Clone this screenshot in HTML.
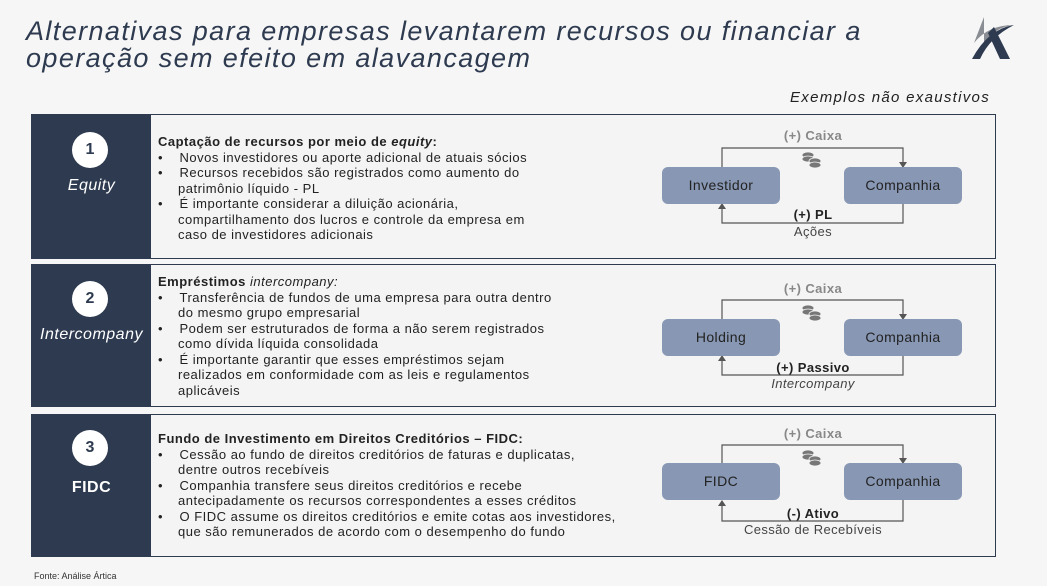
<!DOCTYPE html>
<html><head><meta charset="utf-8"><style>
body{margin:0;width:1047px;height:586px;background:#f6f6f6;position:relative;overflow:hidden;font-family:"Liberation Sans",sans-serif;color:#222}
.a{position:absolute}
.title{left:26px;top:18px;font-size:27px;font-style:italic;color:#2d3a4f;line-height:27px;letter-spacing:1.4px;white-space:nowrap}
.panel{position:absolute;left:31px;width:965px;border:1px solid #2d3a4f;background:#f4f4f5;box-sizing:border-box}
.dark{position:absolute;left:0;top:0;bottom:0;width:119px;background:#2d3a4f;color:#fff;text-align:center}
.circ{position:absolute;left:40px;width:36px;height:36px;border-radius:50%;background:#fff;color:#2d3a4f;font-weight:bold;font-size:16px;line-height:36px;text-align:center}
.lbl{position:absolute;left:0;width:119px;font-size:16px;letter-spacing:0.5px}
.txt{position:absolute;left:126px;font-size:13px;line-height:15.5px;color:#222;white-space:nowrap;letter-spacing:0.5px}
.txt div{padding-left:20px;text-indent:-20px}
.node{position:absolute;width:118px;height:37px;background:#8898b4;border-radius:6px;text-align:center;line-height:37px;font-size:14px;color:#222;letter-spacing:0.4px}
.cl{position:absolute;font-size:13px;text-align:center;width:200px;letter-spacing:0.4px}
</style></head><body>
<div class="a title">Alternativas para empresas levantarem recursos ou financiar a<br>operação sem efeito em alavancagem</div>
<svg class="a" style="left:970px;top:15px" width="50" height="46" viewBox="0 0 50 46"><path d="M14 2 L4 28 Q18 10 44 10 Q24 12 14 30 Z" fill="#8a8d93"/><path d="M2 44 L10 44 Q20 22 44 10 Q18 14 2 44Z" fill="#2d3a4f"/><path d="M18 18 L30 44 L40 44 L24 12Z" fill="#2d3a4f"/></svg>
<div class="a" style="right:57px;top:89px;font-size:15px;font-style:italic;color:#222;letter-spacing:1.3px">Exemplos não exaustivos</div>

<div class="panel" style="top:114px;height:145px">
 <div class="dark"><div class="circ" style="top:17px">1</div><div class="lbl" style="top:62px;font-style:italic">Equity</div></div>
 <div class="txt" style="top:19px"><b>Captação de recursos por meio de <i>equity</i>:</b>
 <div>•&nbsp;&nbsp;&nbsp;&nbsp;Novos investidores ou aporte adicional de atuais sócios</div>
 <div>•&nbsp;&nbsp;&nbsp;&nbsp;Recursos recebidos são registrados como aumento do<br>patrimônio líquido - PL</div>
 <div>•&nbsp;&nbsp;&nbsp;&nbsp;É importante considerar a diluição acionária,<br>compartilhamento dos lucros e controle da empresa em<br>caso de investidores adicionais</div></div>
</div>
<div class="panel" style="top:264px;height:143px">
 <div class="dark"><div class="circ" style="top:16px">2</div><div class="lbl" style="top:61px;font-style:italic">Intercompany</div></div>
 <div class="txt" style="top:9px"><b>Empréstimos <i style="font-weight:normal">intercompany:</i></b>
 <div>•&nbsp;&nbsp;&nbsp;&nbsp;Transferência de fundos de uma empresa para outra dentro<br>do mesmo grupo empresarial</div>
 <div>•&nbsp;&nbsp;&nbsp;&nbsp;Podem ser estruturados de forma a não serem registrados<br>como dívida líquida consolidada</div>
 <div>•&nbsp;&nbsp;&nbsp;&nbsp;É importante garantir que esses empréstimos sejam<br>realizados em conformidade com as leis e regulamentos<br>aplicáveis</div></div>
</div>
<div class="panel" style="top:414px;height:143px">
 <div class="dark"><div class="circ" style="top:15px">3</div><div class="lbl" style="top:64px;font-weight:bold">FIDC</div></div>
 <div class="txt" style="top:16px"><b>Fundo de Investimento em Direitos Creditórios – FIDC:</b>
 <div>•&nbsp;&nbsp;&nbsp;&nbsp;Cessão ao fundo de direitos creditórios de faturas e duplicatas,<br>dentre outros recebíveis</div>
 <div>•&nbsp;&nbsp;&nbsp;&nbsp;Companhia transfere seus direitos creditórios e recebe<br>antecipadamente os recursos correspondentes a esses créditos</div>
 <div>•&nbsp;&nbsp;&nbsp;&nbsp;O FIDC assume os direitos creditórios e emite cotas aos investidores,<br>que são remunerados de acordo com o desempenho do fundo</div></div>
</div>

<svg class="a" style="left:0;top:0" width="1047" height="586">
<g fill="none" stroke="#555" stroke-width="1.2">
<path d="M722 167 V148 H903 V163"/><path d="M903 204 V223 H722 V208"/>
<path d="M722 319 V300 H903 V315"/><path d="M903 356 V375 H722 V360"/>
<path d="M722 463 V445 H903 V459"/><path d="M903 500 V521 H722 V505"/>
</g>
<g fill="#555">
<path d="M899 162 L907 162 L903 168Z"/><path d="M718 209 L726 209 L722 203Z"/>
<path d="M899 314 L907 314 L903 320Z"/><path d="M718 361 L726 361 L722 355Z"/>
<path d="M899 458 L907 458 L903 464Z"/><path d="M718 506 L726 506 L722 500Z"/>
</g>
<g fill="#777" stroke="#f4f4f5" stroke-width="0.8">
<ellipse cx="808" cy="155" rx="6" ry="3"/><ellipse cx="808" cy="159" rx="6" ry="3"/><ellipse cx="815" cy="161" rx="6" ry="3"/><ellipse cx="815" cy="165" rx="6" ry="3"/>
<ellipse cx="808" cy="308" rx="6" ry="3"/><ellipse cx="808" cy="312" rx="6" ry="3"/><ellipse cx="815" cy="314" rx="6" ry="3"/><ellipse cx="815" cy="318" rx="6" ry="3"/>
<ellipse cx="808" cy="453" rx="6" ry="3"/><ellipse cx="808" cy="457" rx="6" ry="3"/><ellipse cx="815" cy="459" rx="6" ry="3"/><ellipse cx="815" cy="463" rx="6" ry="3"/>
</g>
</svg>

<div class="node" style="left:662px;top:167px">Investidor</div><div class="node" style="left:844px;top:167px">Companhia</div>
<div class="node" style="left:662px;top:319px">Holding</div><div class="node" style="left:844px;top:319px">Companhia</div>
<div class="node" style="left:662px;top:463px">FIDC</div><div class="node" style="left:844px;top:463px">Companhia</div>

<div class="cl" style="left:713px;top:128px;color:#888;font-weight:bold">(+) Caixa</div>
<div class="cl" style="left:713px;top:207px;font-weight:bold">(+) PL</div>
<div class="cl" style="left:713px;top:224px;color:#444">Ações</div>
<div class="cl" style="left:713px;top:281px;color:#888;font-weight:bold">(+) Caixa</div>
<div class="cl" style="left:713px;top:360px;font-weight:bold">(+) Passivo</div>
<div class="cl" style="left:713px;top:376px;color:#444;font-style:italic">Intercompany</div>
<div class="cl" style="left:713px;top:426px;color:#888;font-weight:bold">(+) Caixa</div>
<div class="cl" style="left:713px;top:506px;font-weight:bold">(-) Ativo</div>
<div class="cl" style="left:713px;top:522px;color:#444">Cessão de Recebíveis</div>

<div class="a" style="left:34px;top:571px;font-size:9px;color:#333">Fonte: Análise Ártica</div>
</body></html>
